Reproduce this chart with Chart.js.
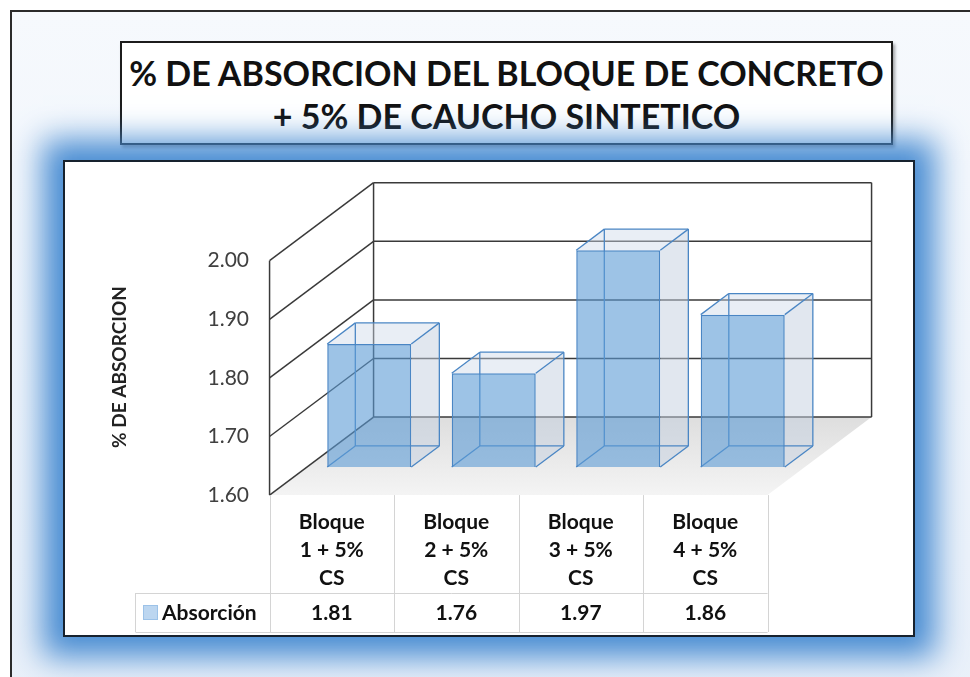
<!DOCTYPE html>
<html lang="es">
<head>
  <meta charset="UTF-8">
  <title>% de absorcion del bloque de concreto</title>
  <script src="https://cdn.jsdelivr.net/npm/chart.js"></script>
  <style>
    body { margin: 0; background: #fff; font-family: Lato, sans-serif; }
    #frame {
      position: absolute; left: 10px; top: 10px; width: 980px; height: 700px;
      border: 2px solid #2b2b2b;
      background: linear-gradient(to bottom, #f6f9fd, #e9f0f9);
      overflow: hidden;
    }
    #title {
      position: absolute; left: 108px; top: 29px; width: 769px; height: 92px;
      background: #fff; border: 2px solid #1c1c1c;
      box-shadow: 2px 3px 3px rgba(0,0,0,0.35);
      font: bold 34px Lato, sans-serif; color: #111; white-space: nowrap;
      text-align: center; line-height: 43px; padding-top: 8px;
    }
    #box {
      position: absolute; left: 51px; top: 148px; width: 848px; height: 473px;
      background: #fff; border: 2px solid #17222e;
      box-shadow: 0 0 30px 20px rgba(72,140,210,1);
    }
    canvas { display: block; }
  </style>
</head>
<body>
  <div id="frame">
    <div id="title">% DE ABSORCION DEL BLOQUE DE CONCRETO<br>+ 5% DE CAUCHO SINTETICO</div>
    <div id="box"><canvas id="chart" width="848" height="473"></canvas></div>
  </div>

  <script>
    // data
    const categories = [
      ['Bloque', '1 + 5%', 'CS'],
      ['Bloque', '2 + 5%', 'CS'],
      ['Bloque', '3 + 5%', 'CS'],
      ['Bloque', '4 + 5%', 'CS']
    ];
    const absorcion = [1.81, 1.76, 1.97, 1.86];
    const seriesName = 'Absorción';
    const axisTitle = '% DE ABSORCION';
    const yTicks = [1.60, 1.70, 1.80, 1.90, 2.00];

    // fake 3d: full depth of the floor and where the bars sit in it
    const DX = 104, DY = 78;
    const Z_FRONT = 0.36;   // bar front face, share of the depth
    const Z_BAR = 0.27;     // bar thickness

    function toFront(x, y) { return [x - Z_FRONT * DX, y + Z_FRONT * DY]; }
    function toBack(x, y) { return [x + (1 - Z_FRONT) * DX, y - (1 - Z_FRONT) * DY]; }

    function line(ctx, a, b) {
      ctx.beginPath();
      ctx.moveTo(a[0], a[1]);
      ctx.lineTo(b[0], b[1]);
      ctx.stroke();
    }
    function poly(ctx, pts, fill) {
      ctx.beginPath();
      ctx.moveTo(pts[0][0], pts[0][1]);
      pts.slice(1).forEach(p => ctx.lineTo(p[0], p[1]));
      ctx.closePath();
      ctx.fillStyle = fill;
      ctx.fill();
    }

    const walls3d = {
      id: 'walls3d',
      beforeDatasetsDraw(chart) {
        const ctx = chart.ctx;
        const ys = chart.scales.y;
        const l = chart.chartArea.left, r = chart.chartArea.right;
        const y0 = ys.getPixelForValue(yTicks[0]);
        const y1 = ys.getPixelForValue(yTicks[yTicks.length - 1]);
        ctx.save();

        // floor
        const fl = toFront(l, y0), fr = toFront(r, y0), br = toBack(r, y0), bl = toBack(l, y0);
        const g = ctx.createLinearGradient(0, bl[1], 0, fl[1]);
        g.addColorStop(0, '#dedede');
        g.addColorStop(1, '#f4f4f4');
        poly(ctx, [fl, fr, br, bl], g);

        ctx.strokeStyle = '#3a3a3a';
        ctx.lineWidth = 1.5;
        // grid: left wall obliques and back wall horizontals
        yTicks.forEach(t => {
          const y = ys.getPixelForValue(t);
          line(ctx, toFront(l, y), toBack(l, y));
          line(ctx, toBack(l, y), toBack(r, y));
        });
        line(ctx, toFront(l, y0), toFront(l, y1));
        line(ctx, toBack(l, y0), toBack(l, y1));
        line(ctx, toBack(r, y0), toBack(r, y1));

        // bar sides, tops and hidden edges
        const meta = chart.getDatasetMeta(0);
        const bx = Z_BAR * DX, by = Z_BAR * DY;
        ctx.strokeStyle = '#4a86c4';
        ctx.lineWidth = 1.3;
        meta.data.forEach((bar, i) => {
          const L = bar.x - bar.width / 2, R = bar.x + bar.width / 2;
          const T = ys.getPixelForValue(absorcion[i]), B = y0;
          poly(ctx, [[R, T], [R + bx, T - by], [R + bx, B - by], [R, B]], 'rgba(196,208,224,0.5)');
          poly(ctx, [[L, T], [L + bx, T - by], [R + bx, T - by], [R, T]], 'rgba(206,218,232,0.45)');
          line(ctx, [L + bx, T - by], [L + bx, B - by]);
          line(ctx, [L + bx, B - by], [R + bx, B - by]);
          line(ctx, [L, B], [L + bx, B - by]);
          line(ctx, [R, B], [R + bx, B - by]);
          line(ctx, [L, T], [L + bx, T - by]);
          line(ctx, [R, T], [R + bx, T - by]);
          line(ctx, [L + bx, T - by], [R + bx, T - by]);
          line(ctx, [R + bx, T - by], [R + bx, B - by]);
        });
        ctx.restore();
      },
      afterDraw(chart) {
        const ctx = chart.ctx;
        const xs = chart.scales.x, ys = chart.scales.y;
        const y0 = toFront(0, ys.getPixelForValue(yTicks[0]))[1];
        const colW = xs.getPixelForValue(1) - xs.getPixelForValue(0);
        const colL = toFront(chart.chartArea.left, 0)[0];
        const rowTop = 431, rowBot = 470;
        ctx.save();

        // data table lines
        ctx.strokeStyle = '#d4d4d4';
        ctx.lineWidth = 1;
        for (let i = 0; i <= categories.length; i++) {
          const x = Math.round(colL + i * colW) + 0.5;
          line(ctx, [x, y0], [x, rowBot]);
        }
        line(ctx, [70.5, rowTop + 0.5], [colL + categories.length * colW, rowTop + 0.5]);
        line(ctx, [70.5, rowBot + 0.5], [colL + categories.length * colW, rowBot + 0.5]);
        line(ctx, [70.5, rowTop], [70.5, rowBot]);

        // legend key and series name
        ctx.fillStyle = '#bcd6f0';
        ctx.fillRect(78, 443, 15, 15);
        ctx.strokeStyle = '#9cc2e8';
        ctx.strokeRect(78.5, 443.5, 14, 14);
        ctx.fillStyle = '#111';
        ctx.font = 'bold 21px Lato, sans-serif';
        ctx.textBaseline = 'middle';
        ctx.textAlign = 'left';
        ctx.fillText(seriesName, 97, 451);

        // values row
        ctx.textAlign = 'center';
        absorcion.forEach((v, i) => {
          const cx = toFront(xs.getPixelForValue(i), 0)[0];
          ctx.fillText(v.toFixed(2), cx, 451);
        });

        // y axis title
        ctx.translate(55, 205);
        ctx.rotate(-Math.PI / 2);
        ctx.font = 'bold 19px Lato, sans-serif';
        ctx.fillStyle = '#222';
        ctx.fillText(axisTitle, 0, 0);
        ctx.restore();
      }
    };

    new Chart(document.getElementById('chart'), {
      type: 'bar',
      data: {
        labels: categories,
        datasets: [{
          label: seriesName,
          data: absorcion,
          backgroundColor: 'rgba(91,155,213,0.6)',
          borderColor: '#4a86c4',
          borderWidth: 1.5,
          barPercentage: 0.675,
          categoryPercentage: 1
        }]
      },
      options: {
        responsive: false,
        animation: false,
        devicePixelRatio: 1,
        layout: { padding: { left: 0, right: 108, top: 68, bottom: 0 } },
        plugins: { legend: { display: false }, tooltip: { enabled: false } },
        scales: {
          y: {
            min: 1.6, max: 2.0,
            afterFit: s => { s.width = 242; },
            grid: { display: false, drawTicks: false },
            border: { display: false },
            ticks: {
              stepSize: 0.1,
              padding: 58,
              labelOffset: Z_FRONT * DY,
              color: '#404040',
              font: { family: 'Lato', size: 21 },
              callback: v => v.toFixed(2)
            }
          },
          x: {
            afterFit: s => { s.height = 168; },
            grid: { display: false, drawTicks: false },
            border: { display: false },
            ticks: {
              padding: 41,
              labelOffset: -Z_FRONT * DX,
              color: '#111',
              font: { family: 'Lato', size: 21, weight: 'bold', lineHeight: 1.333 }
            }
          }
        }
      },
      plugins: [walls3d]
    });
  </script>
</body>
</html>
